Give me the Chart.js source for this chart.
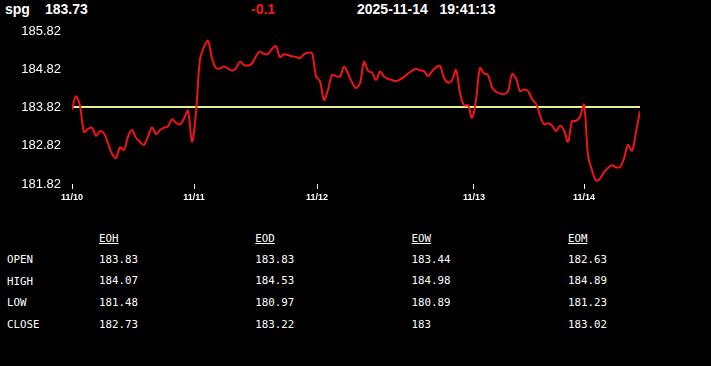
<!DOCTYPE html>
<html>
<head>
<meta charset="utf-8">
<script src="https://cdn.jsdelivr.net/npm/chart.js@4.4.0/dist/chart.umd.min.js"></script>
<style>
  html, body { margin: 0; padding: 0; background: #000; }
  body { width: 711px; height: 366px; position: relative; overflow: hidden; }
  .hdr { position: absolute; top: 1px; font: bold 14px "Liberation Sans", Arial, sans-serif; color: #fff; white-space: pre; }
  #chartBox { position: absolute; left: 0; top: 0; width: 711px; height: 210px; }
  .tbl { position: absolute; font: 10.8px "DejaVu Sans Mono", monospace; color: #fff; white-space: pre; }
  .tbl.h { text-decoration: underline; }
</style>
</head>
<body>
<div class="hdr" style="left:5px">spg</div>
<div class="hdr" id="lastPx" style="left:45px"></div>
<div class="hdr" id="chg" style="left:251px;color:#f01818"></div>
<div class="hdr" id="stamp" style="left:357px"></div>
<div id="chartBox"><canvas id="pricechart"></canvas></div>
<div id="tableBox"></div>
<script>
const symbol = 'spg';
const lastPrice = '183.73';
const change = '-0.1';
const stampDate = '2025-11-14';
const stampTime = '19:41:13';
const prevClose = 183.83;

// intraday prices, evenly spaced samples
const prices = [
  183.76, 184.11, 183.86, 183.18, 183.26, 183.29, 183.08, 183.20, 183.14, 182.88,
  182.61, 182.50, 182.78, 182.71, 183.06, 183.23, 183.03, 182.92, 182.84, 183.06,
  183.30, 183.12, 183.23, 183.29, 183.33, 183.51, 183.42, 183.38, 183.53, 183.73,
  182.92, 183.70, 185.08, 185.40, 185.56, 185.11, 184.85, 184.84, 184.89, 184.84,
  184.78, 184.85, 185.02, 184.93, 184.92, 184.97, 185.16, 185.28, 185.22, 185.22,
  185.35, 185.42, 185.14, 185.21, 185.19, 185.16, 185.14, 185.11, 185.21, 185.25,
  185.24, 184.64, 184.50, 184.02, 184.28, 184.67, 184.64, 184.63, 184.89, 184.71,
  184.48, 184.33, 184.46, 185.01, 184.78, 184.73, 184.54, 184.76, 184.63, 184.57,
  184.54, 184.51, 184.55, 184.62, 184.71, 184.78, 184.83, 184.79, 184.77, 184.64,
  184.76, 184.87, 184.91, 184.59, 184.47, 184.53, 184.80, 184.20, 183.88, 183.88,
  183.55, 184.02, 184.85, 184.71, 184.67, 184.35, 184.23, 184.19, 184.17, 184.24,
  184.69, 184.58, 184.25, 184.29, 184.25, 184.04, 183.92, 183.62, 183.38, 183.41,
  183.35, 183.20, 183.34, 183.22, 182.92, 183.46, 183.47, 183.58, 183.89, 182.58,
  182.18, 181.91, 181.96, 182.13, 182.24, 182.31, 182.26, 182.26, 182.49, 182.84,
  182.69, 183.18, 183.73
];

const dayLabels = ['11/10', '11/11', '11/12', '11/13', '11/14'];
const dayStartIdx = [0, 30.5, 61.25, 100.5, 128];
const yTicks = [181.82, 182.82, 183.82, 184.82, 185.82];

const statCols = ['EOH', 'EOD', 'EOW', 'EOM'];
const statRows = ['OPEN', 'HIGH', 'LOW', 'CLOSE'];
const eoh = ['183.83', '184.07', '181.48', '182.73'];
const eod = ['183.83', '184.53', '180.97', '183.22'];
const eow = ['183.44', '184.98', '180.89', '183'];
const eom = ['182.63', '184.89', '181.23', '183.02'];

document.getElementById('lastPx').textContent = lastPrice;
document.getElementById('chg').textContent = change;
document.getElementById('stamp').textContent = stampDate + '   ' + stampTime;

// stats table
const tableBox = document.getElementById('tableBox');
const colVals = [eoh, eod, eow, eom];
function addCell(txt, x, y, cls) {
  const d = document.createElement('div');
  d.className = 'tbl' + (cls ? ' ' + cls : '');
  d.textContent = txt;
  d.style.left = x + 'px';
  d.style.top = y + 'px';
  tableBox.appendChild(d);
}
statCols.forEach((c, i) => addCell(c, 99 + i * 156.3, 232, 'h'));
statRows.forEach((r, j) => {
  addCell(r, 7, 253 + j * 21.7);
  colVals.forEach((vals, i) => addCell(vals[j], 99 + i * 156.3, 252.5 + j * 21.7));
});

const lastIdx = prices.length - 1;
const ctxgraph = document.getElementById('pricechart').getContext('2d');
const priceChart = new Chart(ctxgraph, {
  type: 'line',
  data: {
    datasets: [{
      label: symbol,
      data: prices.map((v, i) => ({ x: i, y: v })),
      borderColor: '#f01414',
      borderWidth: 2,
      pointRadius: 0,
      tension: 0.35,
      order: 1
    }, {
      label: 'prev close',
      data: [{ x: 0, y: prevClose }, { x: lastIdx, y: prevClose }],
      borderColor: '#e4f08c',
      borderWidth: 2,
      pointRadius: 0,
      order: 2
    }]
  },
  options: {
    responsive: true,
    maintainAspectRatio: false,
    animation: false,
    events: [],
    layout: { padding: { top: 31, right: 71, left: 0, bottom: 0 } },
    plugins: { legend: { display: false }, tooltip: { enabled: false } },
    scales: {
      x: {
        type: 'linear',
        min: 0,
        max: lastIdx,
        afterFit: s => { s.height = 26; },
        afterBuildTicks: s => { s.ticks = dayStartIdx.map(v => ({ value: v })); },
        grid: { display: true, drawOnChartArea: false, color: '#fff', tickLength: 5, lineWidth: 1 },
        border: { display: false },
        ticks: {
          color: '#fff',
          font: { family: 'Liberation Sans, Arial', size: 9, weight: 'bold' },
          padding: 3,
          maxRotation: 0,
          autoSkip: false,
          callback: v => dayLabels[dayStartIdx.indexOf(v)]
        }
      },
      y: {
        min: yTicks[0],
        max: yTicks[yTicks.length - 1],
        afterFit: s => { s.width = 72; },
        afterBuildTicks: s => { s.ticks = yTicks.map(v => ({ value: v })); },
        grid: { display: false, drawTicks: false },
        border: { display: false },
        ticks: {
          color: '#fff',
          font: { family: 'Liberation Sans, Arial', size: 13 },
          padding: 11,
          callback: v => v.toFixed(2)
        }
      }
    }
  }
});
</script>
</body>
</html>
